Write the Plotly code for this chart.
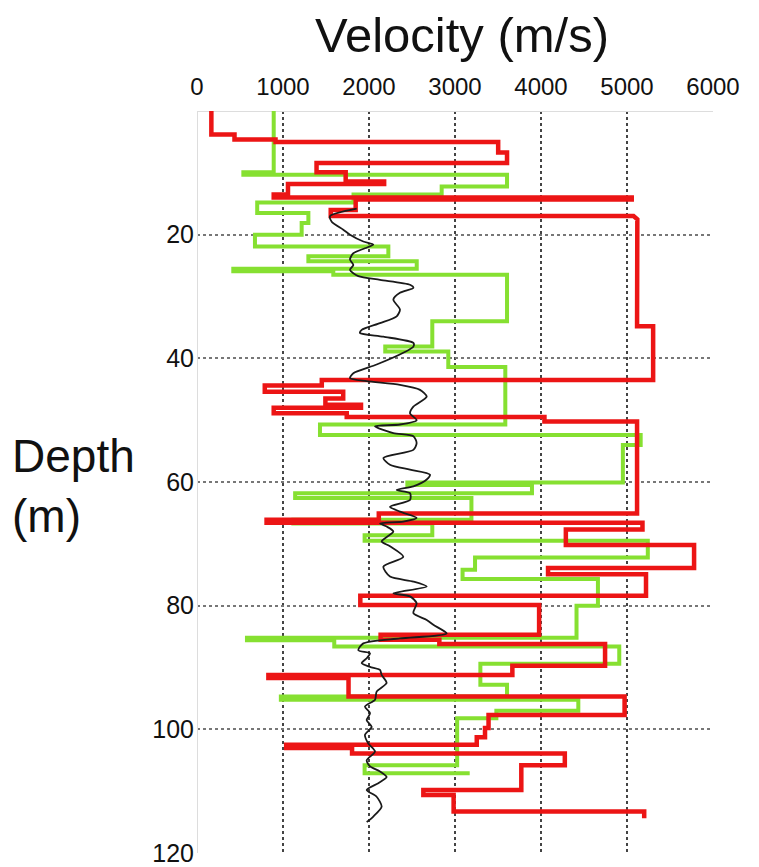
import plotly.graph_objects as go

# ---- data (velocity m/s, depth m) ----
red_v = [167, 167, 436, 436, 913, 913, 3502, 3502, 3605, 3605, 1390, 1390, 1729, 1729, 2176, 2176,
         1058, 1058, 892, 892, 5055, 5055, 1845, 1845, 1555, 1555, 5076, 5120, 5117, 5304, 5304,
         1451, 1451, 788, 788, 1700, 1700, 1493, 1493, 1907, 1907, 892, 892, 1741, 1741, 4040, 4040,
         5117, 5117, 2114, 2114, 809, 809, 5180, 5180, 4289, 4289, 5780, 5780, 4082, 4082, 5221, 5221,
         1899, 1899, 3978, 3978, 2135, 2135, 2818, 2818, 4745, 4745, 3667, 3667, 830, 830, 1762, 1762,
         4972, 4972, 3390, 3390, 3349, 3349, 3253, 3253, 1037, 1037, 1803, 1803, 4277, 4277, 3771, 3771,
         2632, 2632, 2984, 2984, 5200, 5200]
red_d = [0, 3.8, 3.8, 4.6, 4.6, 5.0, 5.0, 6.7, 6.7, 8.4, 8.4, 9.9, 9.9, 11.4, 11.4, 11.8,
         11.8, 13.5, 13.5, 14.0, 14.0, 14.3, 14.3, 16.0, 16.0, 17.0, 17.0, 17.5, 34.8, 34.8, 43.5,
         43.5, 44.4, 44.4, 45.4, 45.4, 46.5, 46.5, 47.5, 47.5, 48.0, 48.0, 48.9, 48.9, 49.5, 49.5, 50.2,
         50.2, 65.1, 65.1, 66.1, 66.1, 66.6, 66.6, 67.7, 67.7, 70.2, 70.2, 73.9, 73.9, 74.9, 74.9, 78.4,
         78.4, 79.9, 79.9, 84.7, 84.7, 85.5, 85.5, 86.2, 86.2, 89.7, 89.7, 91.2, 91.2, 91.7, 91.7, 94.7,
         94.7, 97.7, 97.7, 99.8, 99.8, 101.3, 101.3, 102.5, 102.5, 103.0, 103.0, 103.9, 103.9, 105.8, 105.8, 109.8,
         109.8, 110.6, 110.6, 113.3, 113.3, 114.4]

green_v = [892, 892, 539, 539, 3605, 3605, 2845, 2845, 1820, 1820, 700, 700, 1295, 1295, 1217, 1217,
           674, 674, 2225, 2225, 1295, 1295, 2555, 2555, 422, 422, 1585, 1585, 3605, 3605, 2736, 2736,
           2189, 2189, 2922, 2922, 3585, 3585, 1430, 1430, 5159, 5159, 4952, 4952, 2446, 2446, 3895, 3895,
           1141, 1141, 3191, 3191, 1120, 1120, 2736, 2736, 1949, 1949, 5242, 5242, 3233, 3233, 3088, 3088,
           4662, 4662, 4413, 4413, 581, 581, 1596, 1596, 4910, 4910, 3295, 3295, 3605, 3605, 975, 975,
           4434, 4434, 3481, 3481, 3025, 3025, 1949, 1949, 3171]
green_d = [0, 9.9, 9.9, 10.3, 10.3, 12.2, 12.2, 13.5, 13.5, 14.8, 14.8, 16.5, 16.5, 18.1, 18.1, 20.0,
           20.0, 21.9, 21.9, 23.5, 23.5, 24.3, 24.3, 25.5, 25.5, 25.9, 25.9, 26.5, 26.5, 34.0, 34.0, 38.1,
           38.1, 38.9, 38.9, 41.4, 41.4, 50.7, 50.7, 52.4, 52.4, 54.0, 54.0, 60.1, 60.1, 60.5, 60.5, 61.8,
           61.8, 62.6, 62.6, 66.1, 66.1, 66.7, 66.7, 68.6, 68.6, 69.5, 69.5, 72.2, 72.2, 74.2, 74.2, 75.7,
           75.7, 80.0, 80.0, 85.2, 85.2, 85.6, 85.6, 86.6, 86.6, 89.4, 89.4, 92.8, 92.8, 94.7, 94.7, 95.2,
           95.2, 97.0, 97.0, 98.2, 98.2, 105.8, 105.8, 107.1, 107.1]

black_v = [1857, 1547, 1566, 1701, 1779, 1934, 2050, 1953, 1818, 1779, 1818, 1779, 1876, 2128, 2477, 2516,
           2360, 2283, 2360, 2322, 2128, 1915, 1895, 2167, 2516, 2516, 2399, 2089, 1818, 1779, 1973, 2360,
           2593, 2671, 2516, 2477, 2554, 2360, 2069, 2283, 2516, 2554, 2516, 2167, 2244, 2477, 2709, 2671,
           2516, 2322, 2477, 2477, 2244, 2360, 2554, 2399, 2128, 2205, 2283, 2147, 2244, 2399, 2167, 2244,
           2516, 2671, 2283, 2477, 2554, 2516, 2671, 2748, 2903, 2360, 1934, 1876, 2012, 1973, 1915, 2012,
           2128, 2147, 2205, 2089, 2070, 1953, 2012, 1973, 2031, 1953, 1992, 2070, 1973, 2012, 2128, 2205,
           2108, 1973, 2089, 2147, 2050, 1973]
black_d = [15.8, 17.0, 17.9, 19.2, 20.0, 21.1, 21.6, 22.2, 23.0, 24.0, 24.9, 25.7, 26.7, 27.3, 28.1, 28.6,
           29.4, 30.5, 32.1, 33.2, 34.3, 35.4, 35.9, 36.5, 37.5, 38.1, 39.1, 41.0, 42.4, 43.2, 43.7, 44.3,
           45.1, 46.2, 47.8, 48.9, 50.0, 50.7, 51.0, 52.1, 52.6, 53.7, 54.8, 56.1, 57.2, 58.0, 58.8, 59.6,
           60.7, 61.3, 61.8, 62.9, 64.0, 64.8, 65.8, 66.4, 66.7, 67.2, 68.0, 69.6, 70.4, 72.1, 73.7, 75.3,
           76.1, 76.9, 78.0, 78.5, 79.6, 81.2, 82.3, 83.1, 84.5, 85.3, 86.1, 87.2, 87.7, 88.5, 89.3, 89.9,
           90.4, 91.2, 92.5, 93.9, 95.2, 96.3, 97.4, 98.5, 99.6, 100.9, 102.3, 103.6, 105.0, 106.0, 106.8, 107.7,
           108.7, 109.8, 110.9, 112.5, 114.1, 115.0]

x_ticks = [0, 1000, 2000, 3000, 4000, 5000, 6000]
y_ticks = [20, 40, 60, 80, 100, 120]

FONT = "Liberation Sans, Arial, Helvetica, sans-serif"

# page body has an 8px margin, so the figure is sized to fit the 759x867 window
W, H = 751, 859
L, R, T, B = 189, 46, 103, 14
PW = W - L - R
PH = H - T - B

fig = go.Figure()
fig.add_trace(go.Scatter(x=green_v, y=green_d, mode="lines",
                         line=dict(color="#86e031", width=4), showlegend=False))
fig.add_trace(go.Scatter(x=red_v, y=red_d, mode="lines",
                         line=dict(color="#ec1515", width=4.5), showlegend=False))
fig.add_trace(go.Scatter(x=black_v, y=black_d, mode="lines",
                         line=dict(color="#1a1a1a", width=1.8, shape="spline", smoothing=0.7),
                         showlegend=False))

fig.update_layout(
    width=W, height=H,
    margin=dict(l=L, r=R, t=T, b=B, autoexpand=False),
    paper_bgcolor="white", plot_bgcolor="white",
    font=dict(family=FONT, color="#111111"),
    xaxis=dict(side="top", range=[0, 6000], tickvals=x_ticks,
               ticktext=[str(t) for t in x_ticks],
               tickfont=dict(size=24), ticks="", ticklabelstandoff=10,
               showgrid=True, gridcolor="#444444", griddash="dot", gridwidth=1.5,
               zeroline=True, zerolinecolor="#dddddd", zerolinewidth=1,
               showline=False, fixedrange=True, automargin=False),
    yaxis=dict(range=[120, 0], tickvals=y_ticks,
               tickfont=dict(size=25), ticks="", ticklabelstandoff=2,
               showgrid=True, gridcolor="#777777", griddash="dot", gridwidth=1.5,
               zeroline=True, zerolinecolor="#dddddd", zerolinewidth=1,
               showline=False, fixedrange=True, automargin=False),
    annotations=[
        dict(text="Velocity (m/s)", xref="paper", yref="paper",
             x=(454 - L) / PW, y=(H - B - 27) / PH, xanchor="center", yanchor="middle",
             showarrow=False, font=dict(size=49, family=FONT, color="#111111")),
        dict(text="Depth<br>(m)", xref="paper", yref="paper",
             x=-(L - 2) / PW, y=(H - B - 478) / PH, xanchor="left", yanchor="middle",
             align="left", showarrow=False, font=dict(size=46, family=FONT, color="#111111")),
    ],
)

fig.write_html("out.html")
